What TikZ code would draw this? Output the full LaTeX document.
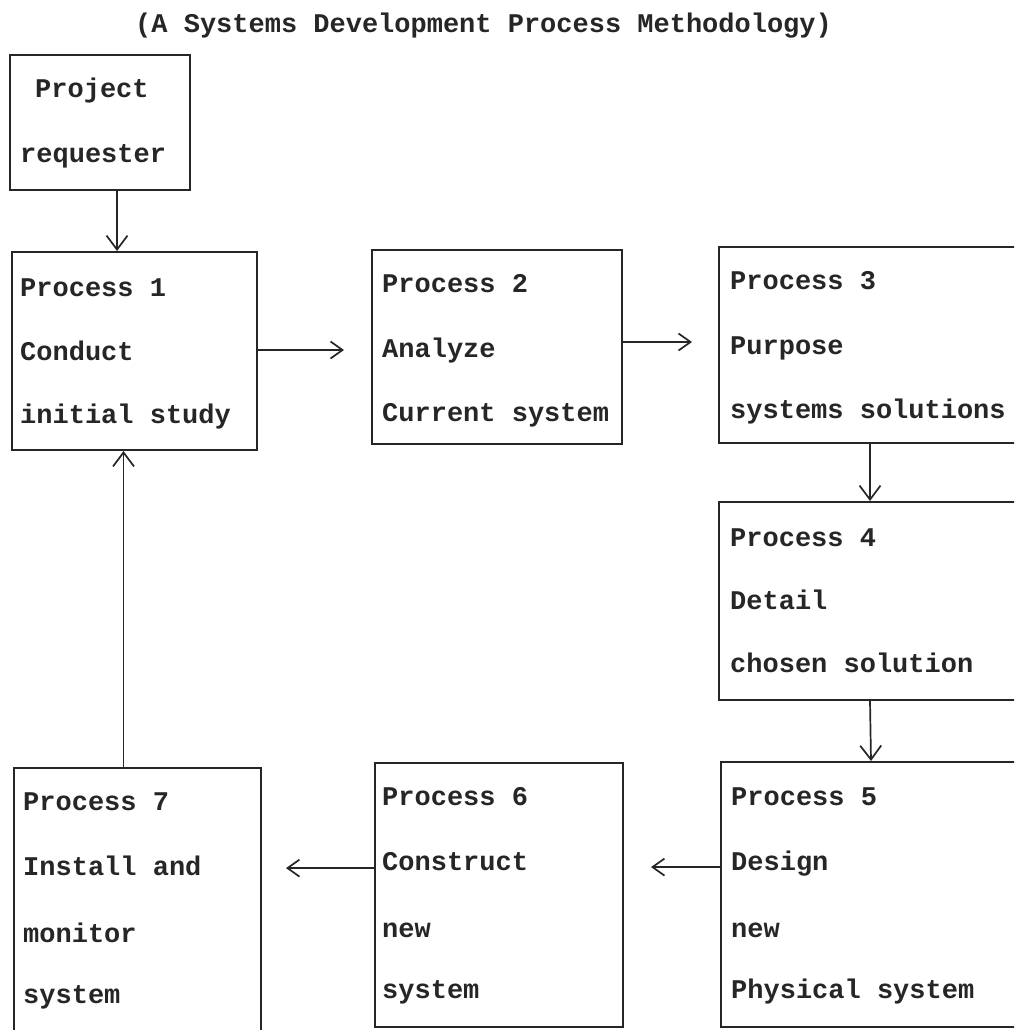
\documentclass[tikz,border=0pt]{standalone}
\usepackage{fontspec}
\setmainfont{Liberation Mono}
\usetikzlibrary{arrows.meta}
\tikzset{
  box/.style={draw=black!85, line width=2pt},
  txt/.style={anchor=base west, inner sep=0pt, font=\fontsize{27}{32}\selectfont\bfseries, text=black!85},
  arrv/.style={draw=black!85, line width=1.7pt, -{Straight Barb[length=14pt,width=21pt,line width=1.7pt]}},
  arrh/.style={draw=black!85, line width=1.7pt, -{Straight Barb[length=12pt,width=17pt,line width=1.7pt]}}
}
\begin{document}
\begin{tikzpicture}[x=1pt,y=-1pt]
\clip (0,0) rectangle (1014,1030);
\fill[white] (0,0) rectangle (1014,1030);
% title
\node[txt] (title) at (135,33) {(A Systems Development Process Methodology)};
% boxes
\node[box, minimum width=180pt, minimum height=135pt, inner sep=0] (req) at (100,122.5) {};
\node[box, minimum width=245pt, minimum height=198pt, inner sep=0] (p1) at (134.5,351) {};
\node[box, minimum width=250pt, minimum height=194pt, inner sep=0] (p2) at (497,347) {};
\node[box, minimum width=302pt, minimum height=196pt, inner sep=0] (p3) at (870,345) {};
\node[box, minimum width=302pt, minimum height=198pt, inner sep=0] (p4) at (870,601) {};
\node[box, minimum width=300pt, minimum height=265pt, inner sep=0] (p5) at (871,894.5) {};
\node[box, minimum width=248pt, minimum height=264pt, inner sep=0] (p6) at (499,895) {};
\node[box, minimum width=247pt, minimum height=272pt, inner sep=0] (p7) at (137.5,904) {};
% texts
\node[txt] (reqa) at (35,98) {Project};
\node[txt] (reqb) at (20,162) {requester};
\node[txt] (p1a) at (20,296) {Process 1};
\node[txt] (p1b) at (20,360) {Conduct};
\node[txt] (p1c) at (20,423) {initial study};
\node[txt] (p2a) at (382,292) {Process 2};
\node[txt] (p2b) at (382,357) {Analyze};
\node[txt] (p2c) at (382,421) {Current system};
\node[txt] (p3a) at (730,289) {Process 3};
\node[txt] (p3b) at (730,354) {Purpose};
\node[txt] (p3c) at (730,418) {systems solutions};
\node[txt] (p4a) at (730,546) {Process 4};
\node[txt] (p4b) at (730,609) {Detail};
\node[txt] (p4c) at (730,672) {chosen solution};
\node[txt] (p5a) at (731,805) {Process 5};
\node[txt] (p5b) at (731,870) {Design};
\node[txt] (p5c) at (731,937) {new};
\node[txt] (p5d) at (731,998) {Physical system};
\node[txt] (p6a) at (382,805) {Process 6};
\node[txt] (p6b) at (382,870) {Construct};
\node[txt] (p6c) at (382,937) {new};
\node[txt] (p6d) at (382,998) {system};
\node[txt] (p7a) at (23,810) {Process 7};
\node[txt] (p7b) at (23,875) {Install and};
\node[txt] (p7c) at (23,942) {monitor};
\node[txt] (p7d) at (23,1003) {system};
% connectors
\draw[arrv] ([xshift=17pt]req.south) -- ([xshift=17pt]req.south |- p1.north);
\draw[arrh, shorten >=27pt] ([yshift=1pt]p1.east) -- ([yshift=1pt]p1.east -| p2.west);
\draw[arrh, shorten >=26pt] ([yshift=5pt]p2.east) -- ([yshift=5pt]p2.east -| p3.west);
\draw[arrv] (p3.south) -- (p4.north);
\draw[arrv] (p4.south) -- (p5.north);
\draw[arrh, shorten >=27pt] ([yshift=-4pt]p5b.west -| p5.west) -- ([yshift=-4pt]p5b.west -| p6.east);
\draw[arrh, shorten >=24pt] ([yshift=-7pt]p6b.west -| p6.west) -- ([yshift=-7pt]p6b.west -| p7.east);
\draw[arrv] ([xshift=-14pt]p7.north) -- ([xshift=-14pt]p7.north |- p1.south);
\end{tikzpicture}
\end{document}
